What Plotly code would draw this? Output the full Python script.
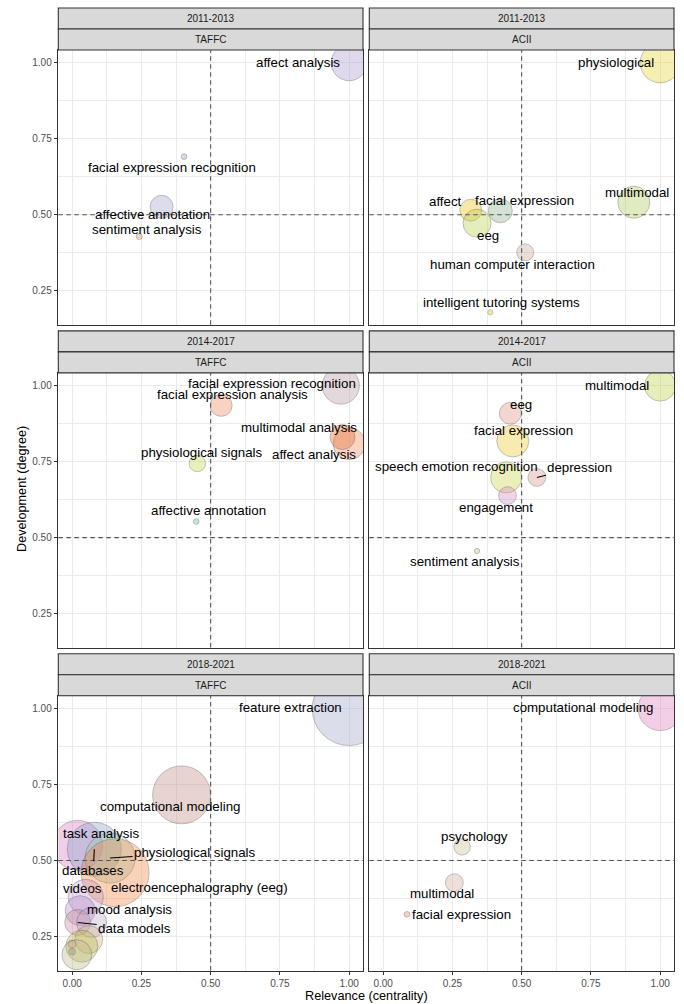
import numpy as np
import plotly.graph_objects as go

# ---------------- DATA ----------------
periods = ["2011-2013", "2011-2013", "2014-2017", "2014-2017", "2018-2021", "2018-2021"]
venues = ["TAFFC", "ACII", "TAFFC", "ACII", "TAFFC", "ACII"]

taffc_2011_terms = ["affect analysis", "facial expression recognition", "affective annotation", "sentiment analysis"]
taffc_2011_relevance = [1.0, 0.404, 0.323, 0.242]
taffc_2011_development = [1.0, 0.691, 0.526, 0.428]
taffc_2011_freq = [81, 2, 33, 2.3]

acii_2011_terms = ["physiological", "multimodal", "affect", "facial expression", "eeg",
                   "human computer interaction", "intelligent tutoring systems"]
acii_2011_relevance = [1.0, 0.905, 0.316, 0.423, 0.339, 0.513, 0.387]
acii_2011_development = [1.0, 0.541, 0.515, 0.513, 0.472, 0.376, 0.179]
acii_2011_freq = [100, 64, 30, 36, 49, 18, 1.7]

taffc_2014_terms = ["facial expression recognition", "facial expression analysis", "affect analysis",
                    "multimodal analysis", "physiological signals", "affective annotation"]
taffc_2014_relevance = [0.970, 0.538, 1.0, 0.976, 0.452, 0.448]
taffc_2014_development = [1.0, 0.935, 0.809, 0.831, 0.744, 0.553]
taffc_2014_freq = [86, 30, 64, 39, 17, 2]

acii_2014_terms = ["multimodal", "eeg", "facial expression", "speech emotion recognition",
                   "depression", "engagement", "sentiment analysis"]
acii_2014_relevance = [1.0, 0.459, 0.468, 0.444, 0.555, 0.449, 0.339]
acii_2014_development = [1.0, 0.909, 0.818, 0.698, 0.698, 0.638, 0.456]
acii_2014_freq = [60, 30, 64, 60, 20, 20, 1.7]

taffc_2018_terms = ["feature extraction", "computational modeling", "task analysis", "databases",
                    "physiological signals", "electroencephalography (eeg)", "videos", "mood analysis",
                    "data models", "", "", "", "", "", ""]
taffc_2018_relevance = [1.0, 0.395, 0.02, 0.08, 0.137, 0.155, 0.049, 0.029, 0.02,
                        0.07, 0.06, 0.035, 0.0, 0.0, 0.017]
taffc_2018_development = [1.0, 0.716, 0.55, 0.537, 0.508, 0.46, 0.38, 0.335, 0.296,
                          0.296, 0.24, 0.218, 0.225, 0.20, 0.19]
taffc_2018_freq = [342, 210, 156, 182, 156, 289, 77, 56, 42, 56, 49, 64, 4, 3, 56]

acii_2018_terms = ["computational modeling", "psychology", "multimodal", "facial expression"]
acii_2018_relevance = [1.0, 0.285, 0.257, 0.086]
acii_2018_development = [1.0, 0.545, 0.427, 0.323]
acii_2018_freq = [121, 17, 20, 2]

x_ticks = [0.0, 0.25, 0.50, 0.75, 1.00]
x_tick_labels = ["0.00", "0.25", "0.50", "0.75", "1.00"]
y_ticks = [0.25, 0.50, 0.75, 1.00]
y_tick_labels = ["0.25", "0.50", "0.75", "1.00"]

panel_data = [
    (taffc_2011_terms, taffc_2011_relevance, taffc_2011_development, taffc_2011_freq),
    (acii_2011_terms, acii_2011_relevance, acii_2011_development, acii_2011_freq),
    (taffc_2014_terms, taffc_2014_relevance, taffc_2014_development, taffc_2014_freq),
    (acii_2014_terms, acii_2014_relevance, acii_2014_development, acii_2014_freq),
    (taffc_2018_terms, taffc_2018_relevance, taffc_2018_development, taffc_2018_freq),
    (acii_2018_terms, acii_2018_relevance, acii_2018_development, acii_2018_freq),
]

# ---------------- STYLE ----------------
# apparent (blended on white) fill colours per bubble
panel_colors = [
    ["#D3CAE6", "#C5C9E0", "#CDD0E4", "#F5BFAA"],
    ["#F1E995", "#D5E3A6", "#F7DE86", "#C2D6C3", "#DAE7A1", "#E2D0C8", "#F4E07F"],
    ["#DAC8CE", "#F6BFA9", "#F7C3AB", "#F0B294", "#E2EAA0", "#A8DCCB"],
    ["#DDE79D", "#EEC6BF", "#F6E38E", "#E5E99F", "#EBC7C4", "#E9C3E0", "#D3E5A1"],
    ["#CDCFE2", "#DEC1BC", "#EAB9DF", "#BFCEE2", "#C8E6D6", "#F8BE9C", "#E0CCE4",
     "#D7C3E4", "#E5BFC8", "#DCD3E6", "#E8D8C0", "#D9D9A0", "#F0B8C8", "#B8B8C8", "#DCDAC0"],
    ["#EEBADD", "#E3DEC3", "#E6D4CC", "#F0C3AE"],
]
# label offsets in pixels (dx, dy; dy positive = down) and whether a segment is drawn
label_offsets = [
    [(-51, 0, 0), (-12, 11, 0), (-9, 8, 0), (8, -7, 0)],
    [(-44, 0, 0), (3, -10, 0), (-25, -9, 0), (24, -10, 0), (11, 12, 0), (-13, 12, 0), (11, -10, 0)],
    [(-69, -2, 0), (11, -11, 0), (-35, 11, 0), (-44, -10, 0), (5, -11, 0), (12, -11, 0)],
    [(-43, 0, 0), (11, -9, 0), (11, -10, 0), (-50, -11, 0), (43, -10, 1), (-12, 12, 0), (-12, 11, 0)],
    [(-59, -1, 0), (-12, 12, 0), (23, -12, 0), (-1, 21, 1), (85, -6, 1), (84, 15, 0), (-3, -8, 0),
     (49, -1, 0), (57, 6, 1), (0, 0, 0), (0, 0, 0), (0, 0, 0), (0, 0, 0), (0, 0, 0), (0, 0, 0)],
    [(-77, -1, 0), (12, -10, 0), (-12, 11, 0), (55, 0, 0)],
]

FONT = "Liberation Sans, Arial, Helvetica, sans-serif"
W, H = 684, 1004
ALPHA = 0.5


def fx(px):
    return px / W


def fy(py):
    return 1 - py / H


def base_rgba(hexcol, a=ALPHA):
    h = hexcol.lstrip("#")
    v = [int(h[i:i + 2], 16) for i in (0, 2, 4)]
    b = [max(0, min(255, round(255 - (255 - c) / a))) for c in v]
    return f"rgba({b[0]},{b[1]},{b[2]},{a})"


col_px = [(58.3, 363.0), (369.3, 674.0)]
TOP, STRIP, PANEL, GAP = 8.0, 42.0, 274.7, 6.2
X_RANGE = [-0.05, 1.05]
Y_RANGE = [0.138, 1.042]

fig = go.Figure()
layout = dict(
    width=W, height=H, margin=dict(l=0, r=0, t=0, b=0),
    paper_bgcolor="white", plot_bgcolor="white", showlegend=False,
    font=dict(family=FONT), hovermode="closest",
)
shapes = []
annotations = []

for k in range(6):
    row, col = divmod(k, 2)
    n = k + 1
    xa = "xaxis" if n == 1 else f"xaxis{n}"
    ya = "yaxis" if n == 1 else f"yaxis{n}"
    xr = "x" if n == 1 else f"x{n}"
    yr = "y" if n == 1 else f"y{n}"
    strip_top = TOP + row * (STRIP + PANEL + GAP)
    p_top = strip_top + STRIP
    p_bot = p_top + PANEL
    l, r = col_px[col]

    layout[xa] = dict(
        domain=[fx(l), fx(r)], range=X_RANGE, anchor=yr,
        tickmode="array", tickvals=x_ticks, ticktext=x_tick_labels,
        showticklabels=(row == 2), ticks="outside" if row == 2 else "",
        ticklen=3.5, tickwidth=1.1, tickcolor="#333333",
        tickfont=dict(family=FONT, size=10, color="#4D4D4D"),
        showgrid=True, gridcolor="#EBEBEB", gridwidth=1.1,
        minor=dict(tickmode="array", tickvals=[0.125, 0.375, 0.625, 0.875],
                   showgrid=True, gridcolor="#EBEBEB", gridwidth=0.55, ticks=""),
        zeroline=False, showline=True, mirror=True, linecolor="#333333", linewidth=1.1,
        fixedrange=True,
    )
    layout[ya] = dict(
        domain=[fy(p_bot), fy(p_top)], range=Y_RANGE, anchor=xr,
        tickmode="array", tickvals=y_ticks, ticktext=y_tick_labels,
        showticklabels=(col == 0), ticks="outside" if col == 0 else "",
        ticklen=3.5, tickwidth=1.1, tickcolor="#333333",
        tickfont=dict(family=FONT, size=10, color="#4D4D4D"),
        showgrid=True, gridcolor="#EBEBEB", gridwidth=1.1,
        minor=dict(tickmode="array", tickvals=[0.375, 0.625, 0.875],
                   showgrid=True, gridcolor="#EBEBEB", gridwidth=0.55, ticks=""),
        zeroline=False, showline=True, mirror=True, linecolor="#333333", linewidth=1.1,
        fixedrange=True,
    )

    # strips
    for j, txt in enumerate([periods[k], venues[k]]):
        s0 = strip_top + j * STRIP / 2
        s1 = s0 + STRIP / 2
        shapes.append(dict(type="rect", xref="paper", yref="paper",
                           x0=fx(l), x1=fx(r), y0=fy(s1), y1=fy(s0),
                           fillcolor="#D9D9D9", line=dict(color="#333333", width=1.1), layer="above"))
        annotations.append(dict(xref="paper", yref="paper", x=fx((l + r) / 2), y=fy((s0 + s1) / 2),
                                text=txt, showarrow=False, xanchor="center", yanchor="middle",
                                font=dict(family=FONT, size=10, color="#1A1A1A")))

    # reference lines
    dash_line = dict(color="#555555", width=1.1, dash="4.5px,3.5px")
    shapes.append(dict(type="line", xref=xr, yref=f"{yr} domain", x0=0.5, x1=0.5, y0=0, y1=1,
                       line=dash_line, layer="above"))
    shapes.append(dict(type="line", xref=f"{xr} domain", yref=yr, x0=0, x1=1, y0=0.5, y1=0.5,
                       line=dash_line, layer="above"))

    terms, rel, dev, freq = panel_data[k]
    colors = [base_rgba(c) for c in panel_colors[k]]
    fig.add_trace(go.Scatter(
        x=rel, y=dev, mode="markers", xaxis=xr, yaxis=yr, cliponaxis=True,
        text=terms, hoverinfo="text",
        marker=dict(size=4 * np.sqrt(np.array(freq, dtype=float)), sizemode="diameter",
                    color=colors, line=dict(color="rgba(70,70,70,0.55)", width=0.8)),
    ))

    for t, xv, yv, (dx, dy, seg) in zip(terms, rel, dev, label_offsets[k]):
        if not t:
            continue
        if seg:
            annotations.append(dict(xref=xr, yref=yr, x=xv, y=yv, text=t, showarrow=True,
                                    ax=dx, ay=dy, arrowhead=0, arrowwidth=1.1, arrowcolor="black",
                                    standoff=0, startstandoff=0,
                                    font=dict(family=FONT, size=13.3, color="black")))
        else:
            annotations.append(dict(xref=xr, yref=yr, x=xv, y=yv, text=t, showarrow=False,
                                    xshift=dx, yshift=-dy, xanchor="center", yanchor="middle",
                                    font=dict(family=FONT, size=13.3, color="black")))

# axis titles
annotations.append(dict(xref="paper", yref="paper", x=fx((col_px[0][0] + col_px[1][1]) / 2), y=fy(996),
                        text="Relevance (centrality)", showarrow=False, xanchor="center", yanchor="middle",
                        font=dict(family=FONT, size=12.7, color="black")))
annotations.append(dict(xref="paper", yref="paper", x=fx(22), y=fy(489),
                        text="Development (degree)", showarrow=False, textangle=-90,
                        xanchor="center", yanchor="middle",
                        font=dict(family=FONT, size=12.7, color="black")))

layout["shapes"] = shapes
layout["annotations"] = annotations
fig.update_layout(**layout)
fig.write_html(
    "out.html",
    config={"displayModeBar": False},
    post_script="document.body.style.margin='0';document.body.style.padding='0';"
                "document.documentElement.style.overflow='hidden';",
)
